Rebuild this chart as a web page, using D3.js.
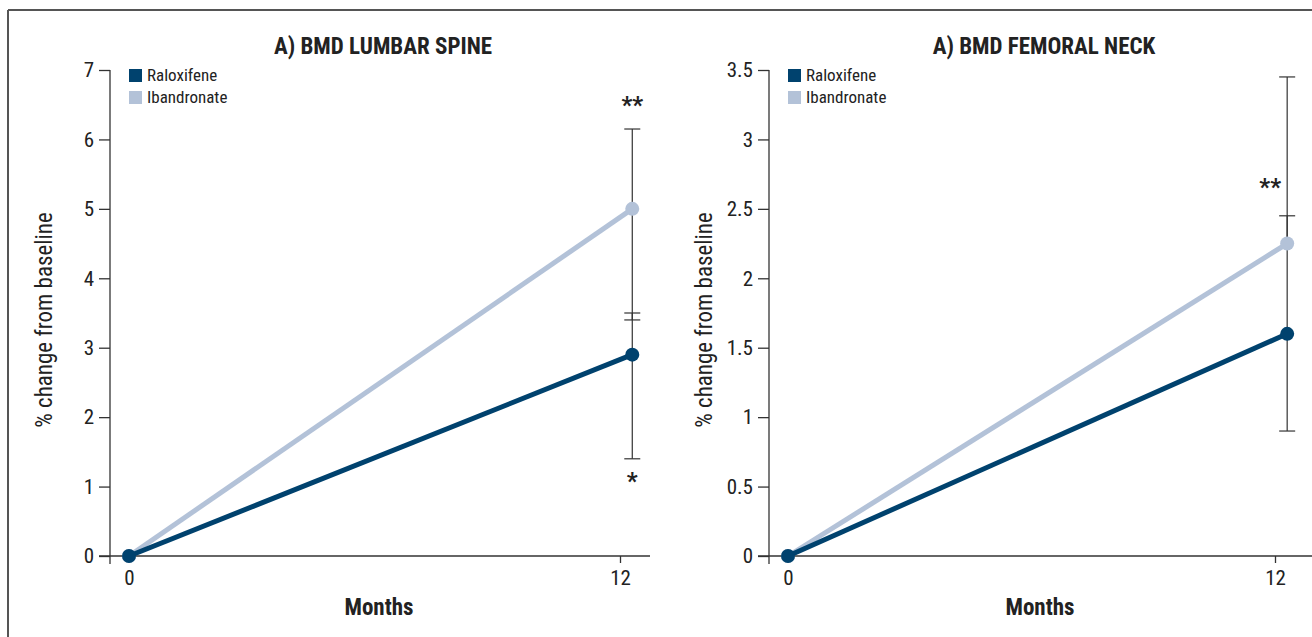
<!DOCTYPE html>
<html>
<head>
<meta charset="utf-8">
<script src="https://cdn.jsdelivr.net/npm/d3@7"></script>
<style>
  body { margin: 0; background: #fff; }
  svg { display: block; }
  text { font-family: "Liberation Sans Narrow", "Roboto Condensed", "DejaVu Sans Condensed", sans-serif; fill: #222; }
</style>
</head>
<body>
<svg width="1312" height="637"></svg>
<script>
// data
let seriesNames = ['Raloxifene', 'Ibandronate'];
let monthTicks = [0, 12];
let pointMonths = [0, 12.3];   // the 12-month points sit a bit right of the tick

let spineTitle = 'A) BMD LUMBAR SPINE';
let spineTicks = [0, 1, 2, 3, 4, 5, 6, 7];
let spineRaloxifene = [0, 2.9];
let spineIbandronate = [0, 5.0];
let spineRaloxifeneErr = [1.4, 3.5];
let spineIbandronateErr = [3.4, 6.15];

let neckTitle = 'A) BMD FEMORAL NECK';
let neckTicks = [0, 0.5, 1, 1.5, 2, 2.5, 3, 3.5];
let neckRaloxifene = [0, 1.6];
let neckIbandronate = [0, 2.25];
let neckRaloxifeneErr = [0.9, 2.45];
let neckIbandronateErr = [null, 3.45];

let colors = { Raloxifene: '#00426e', Ibandronate: '#b3c2d8' };

let svg = d3.select('svg');

// outer frame
svg.append('line').attr('x1', 8).attr('x2', 1312).attr('y1', 10).attr('y2', 10)
   .attr('stroke', '#555').attr('stroke-width', 2);
svg.append('line').attr('x1', 8).attr('x2', 8).attr('y1', 10).attr('y2', 637)
   .attr('stroke', '#555').attr('stroke-width', 2);

function drawPanel(p) {
    let g = svg.append('g');

    let x = d3.scaleLinear().domain([0, 12]).range([p.x0, p.x12]);
    let y = d3.scaleLinear().domain([0, d3.max(p.ticks)]).range([556, 70]);

    // title
    g.append('text')
        .attr('x', p.titleX).attr('y', 54)
        .attr('text-anchor', 'middle')
        .attr('font-size', 23).attr('font-weight', 'bold')
        .text(p.title);

    // y axis
    let yAxis = d3.axisLeft(y).tickValues(p.ticks).tickSize(11).tickPadding(5).tickSizeOuter(0)
        .tickFormat(d3.format('~g'));
    let ya = g.append('g').attr('transform', 'translate(' + p.axisX + ',0)').call(yAxis);
    ya.select('.domain').remove();
    ya.selectAll('line').attr('stroke', '#333').attr('stroke-width', 1.3);
    ya.selectAll('text').attr('font-size', 21).attr('fill', '#222');
    g.append('line').attr('x1', p.axisX).attr('x2', p.axisX).attr('y1', 70).attr('y2', 564)
        .attr('stroke', '#333').attr('stroke-width', 1.3);

    // x axis
    let xAxis = d3.axisBottom(x).tickValues(monthTicks).tickSize(7).tickPadding(7).tickSizeOuter(0);
    let xa = g.append('g').attr('transform', 'translate(0,556)').call(xAxis);
    xa.select('.domain').remove();
    xa.selectAll('line').attr('stroke', '#333').attr('stroke-width', 1.3);
    xa.selectAll('text').attr('font-size', 21).attr('fill', '#222');
    g.append('line').attr('x1', p.axisX - 11).attr('x2', p.xEnd).attr('y1', 556).attr('y2', 556)
        .attr('stroke', '#333').attr('stroke-width', 1.3);

    // axis titles
    g.append('text')
        .attr('transform', 'translate(' + p.yLabelX + ',320) rotate(-90)')
        .attr('text-anchor', 'middle').attr('font-size', 23)
        .text('% change from baseline');
    g.append('text')
        .attr('x', p.monthsX).attr('y', 615)
        .attr('text-anchor', 'middle').attr('font-size', 23).attr('font-weight', 'bold')
        .text('Months');

    // error bars
    let errs = [p.ibaErr, p.ralErr];
    let vals = [p.iba, p.ral];
    let bx = x(pointMonths[1]);
    errs.forEach((e, i) => {
        let mid = vals[i][1];
        let lo = e[0] === null ? mid : e[0];
        g.append('line').attr('x1', bx).attr('x2', bx).attr('y1', y(lo)).attr('y2', y(e[1]))
            .attr('stroke', '#333').attr('stroke-width', 1.2);
        e.forEach((v) => {
            if (v === null) return;
            g.append('line').attr('x1', bx - 8).attr('x2', bx + 8).attr('y1', y(v)).attr('y2', y(v))
                .attr('stroke', '#333').attr('stroke-width', 1.2);
        });
    });

    // lines + dots
    let line = d3.line().x((d, i) => x(pointMonths[i])).y((d) => y(d));
    [['Ibandronate', p.iba], ['Raloxifene', p.ral]].forEach(([name, vs]) => {
        g.append('path').datum(vs).attr('d', line)
            .attr('fill', 'none').attr('stroke', colors[name]).attr('stroke-width', 5);
        g.selectAll(null).data(vs).enter().append('circle')
            .attr('cx', (d, i) => x(pointMonths[i])).attr('cy', (d) => y(d)).attr('r', 7)
            .attr('fill', colors[name]);
    });

    // significance stars
    p.stars.forEach((s) => {
        g.append('text')
            .attr('x', bx + s.dx).attr('y', y(s.v))
            .attr('dy', '0.7em')
            .attr('text-anchor', 'middle').attr('font-size', 24).attr('font-weight', 'bold')
            .text(s.t);
    });

    // legend
    seriesNames.forEach((name, i) => {
        g.append('rect').attr('x', p.axisX + 19).attr('y', 69 + i * 22).attr('width', 13).attr('height', 13)
            .attr('fill', colors[name]);
        g.append('text').attr('x', p.axisX + 37).attr('y', 81 + i * 22)
            .attr('font-size', 17).text(name);
    });
}

drawPanel({
    title: spineTitle, titleX: 383, ticks: spineTicks,
    axisX: 110, x0: 129, x12: 620, xEnd: 650, yLabelX: 52, monthsX: 379,
    ral: spineRaloxifene, iba: spineIbandronate,
    ralErr: spineRaloxifeneErr, ibaErr: spineIbandronateErr,
    stars: [{ t: '**', v: 6.62, dx: 0 }, { t: '*', v: 1.2, dx: 0 }]
});

drawPanel({
    title: neckTitle, titleX: 1044, ticks: neckTicks,
    axisX: 769, x0: 788, x12: 1275, xEnd: 1312, yLabelX: 712, monthsX: 1040,
    ral: neckRaloxifene, iba: neckIbandronate,
    ralErr: neckRaloxifeneErr, ibaErr: neckIbandronateErr,
    stars: [{ t: '**', v: 2.72, dx: -17 }]
});
</script>
</body>
</html>
